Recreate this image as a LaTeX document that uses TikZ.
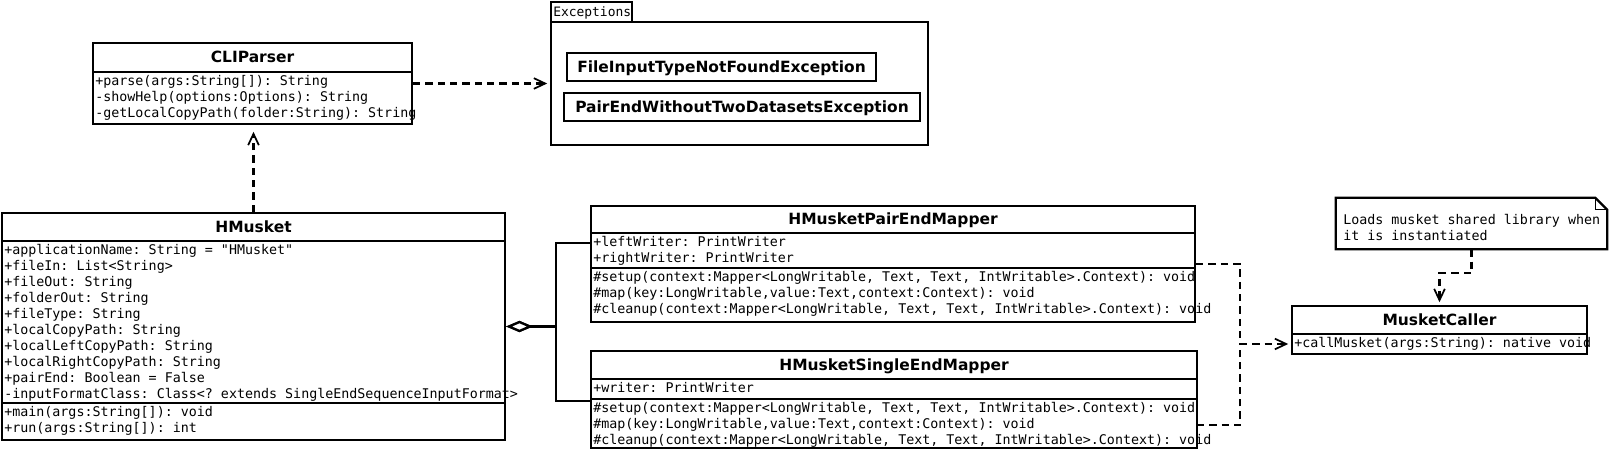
\documentclass[tikz,border=0pt]{standalone}
\usepackage{fontspec}
\setmainfont{DejaVu Sans}
\setmonofont{DejaVu Sans Mono}
\newfontfamily\ttlfont{DejaVu Sans}
\usetikzlibrary{arrows.meta,fit,calc}
\newcommand\lnstrut{\rule{0pt}{9pt}}
\begin{document}
\begin{tikzpicture}[x=0.75pt,y=-0.75pt,
  lw/.style={line width=1.7pt},
  cls/.style={draw, line width=1.7pt, inner sep=0pt},
  title/.style={anchor=base, inner sep=0pt, font=\ttlfont\bfseries\fontsize{11.6}{14}\selectfont},
  body/.style={anchor=north west, inner sep=0pt, align=left, font=\ttfamily\fontsize{10}{12}\selectfont},
  dashln/.style={line width=1.7pt, dash pattern=on 5.5pt off 3.75pt},
  dep/.style={dashln, -{Straight Barb[length=8.5pt,width=8pt,line width=1.3pt]}, shorten >=2pt},
  agg/.style={line width=1.7pt, {Diamond[length=20pt,width=8.5pt,fill=white]}-},
]
\useasboundingbox (0,0) rectangle (1610,452);
\fill[white] (0,0) rectangle (1610,452);

% Exceptions package
\node[cls, fit={(551,22)(928,145)}] (pkg) {};
\node[cls, fit={(551,2)(632,22)}] (pkgtab) {};
\node[anchor=base west, inner sep=0pt, font=\ttfamily\fontsize{9.7}{12}\selectfont] (pkglbl) at (553,17) {Exceptions};
\node[cls, fit={(567,53)(876,81)}] (exa) {};
\node[title] (exat) at (721.5,72.5) {FileInputTypeNotFoundException};
\node[cls, fit={(564,93)(920,121)}] (exb) {};
\node[title] (exbt) at (742,112.5) {PairEndWithoutTwoDatasetsException};

% CLIParser
\node[cls, fit={(93,43)(412,124)}] (cli) {};
\node[title] (clit) at (252.5,63) {CLIParser};
\draw[lw] (93,72) -- (412,72);
\node[body] (clib) at (95,73) {\lnstrut+parse(args:String[]): String\\-showHelp(options:Options): String\\-getLocalCopyPath(folder:String): String};

% HMusket
\node[cls, fit={(2,213)(505,440)}] (hm) {};
\node[title] (hmt) at (253.5,232.5) {HMusket};
\draw[lw] (2,241) -- (505,241);
\draw[lw] (2,403) -- (505,403);
\node[body] (hma) at (4,242) {\lnstrut+applicationName: String = "HMusket"\\+fileIn: List<String>\\+fileOut: String\\+folderOut: String\\+fileType: String\\+localCopyPath: String\\+localLeftCopyPath: String\\+localRightCopyPath: String\\+pairEnd: Boolean = False\\-inputFormatClass: Class<? extends SingleEndSequenceInputFormat>};
\node[body] (hmo) at (4,404) {\lnstrut+main(args:String[]): void\\+run(args:String[]): int};

% HMusketPairEndMapper
\node[cls, fit={(591,206)(1195,322)}] (pe) {};
\node[title] (pet) at (893,225) {HMusketPairEndMapper};
\draw[lw] (591,233) -- (1195,233);
\draw[lw] (591,268) -- (1195,268);
\node[body] (pea) at (593,234) {\lnstrut+leftWriter: PrintWriter\\+rightWriter: PrintWriter};
\node[body] (peo) at (593,269) {\lnstrut\#setup(context:Mapper<LongWritable, Text, Text, IntWritable>.Context): void\\\#map(key:LongWritable,value:Text,context:Context): void\\\#cleanup(context:Mapper<LongWritable, Text, Text, IntWritable>.Context): void};

% HMusketSingleEndMapper
\node[cls, fit={(591,351)(1197,448)}] (se) {};
\node[title] (set) at (894,370.5) {HMusketSingleEndMapper};
\draw[lw] (591,379) -- (1197,379);
\draw[lw] (591,399) -- (1197,399);
\node[body] (sea) at (593,380) {\lnstrut+writer: PrintWriter};
\node[body] (seo) at (593,400) {\lnstrut\#setup(context:Mapper<LongWritable, Text, Text, IntWritable>.Context): void\\\#map(key:LongWritable,value:Text,context:Context): void\\\#cleanup(context:Mapper<LongWritable, Text, Text, IntWritable>.Context): void};

% MusketCaller
\node[cls, fit={(1292,306)(1587,354)}] (mc) {};
\node[title] (mct) at (1439.5,325.5) {MusketCaller};
\draw[lw] (1292,334) -- (1587,334);
\node[body] (mco) at (1294,335) {\lnstrut+callMusket(args:String): native void};

% Note
\node[inner sep=0pt, fit={(1336,198)(1607,249)}] (note) {};
\draw[lw] (note.north west) -- ($(note.north east)+(-12,0)$) -- ($(note.north east)+(0,12)$) -- (note.south east) -- (note.south west) -- cycle;
\draw[line width=0.8pt] ($(note.north east)+(-12,0)$) -- ($(note.north east)+(-12,12)$) -- ($(note.north east)+(0,12)$);
\node[body] (notet) at (1343,212) {\lnstrut Loads musket shared library when\\it is instantiated};

% Connectors
\draw[dep, shorten >=5pt] (hm.north) -- (hm.north |- cli.south);
\draw[dep] (cli.east) -- (pkg.west);
\coordinate (aggj) at (556,326.5);
\coordinate (peIn) at (591,243);
\coordinate (seIn) at (591,401);
\draw[agg] (hm.east) -- (aggj) |- (peIn);
\draw[agg] (hm.east) -- (aggj) |- (seIn);
\coordinate (jn) at (1240,344);
\coordinate (seOut) at (1197,425);
\draw[dashln] (pe.east) -| (jn);
\draw[dashln] (seOut) -| (jn);
\draw[dep] (jn) -- (mc.west |- jn);
\draw[dep] (note.south) -- ++(0,24) -| (mc.north);
\end{tikzpicture}
\end{document}
